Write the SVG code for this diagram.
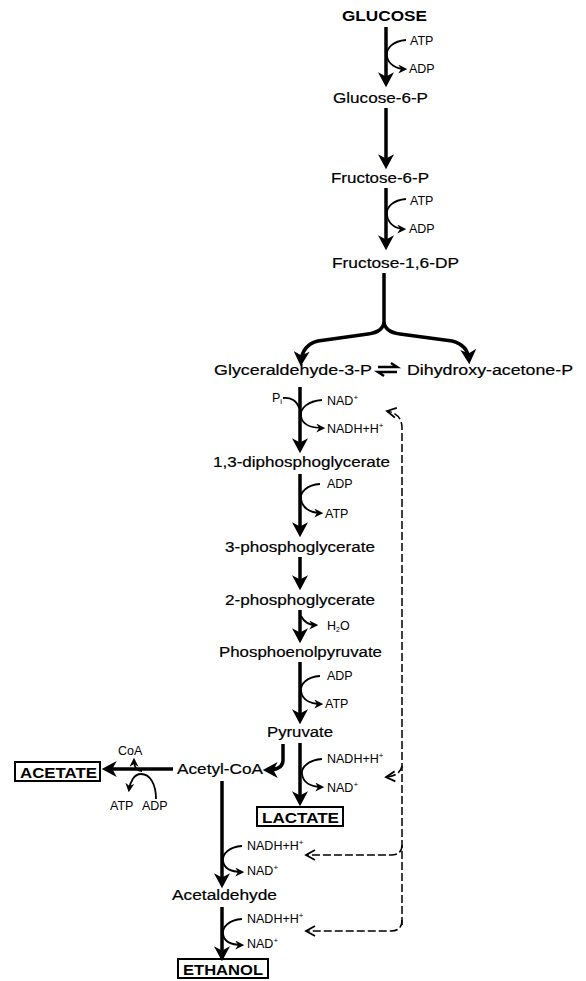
<svg xmlns="http://www.w3.org/2000/svg" width="586" height="981" viewBox="0 0 586 981">
<defs>
<style>
text{font-family:"Liberation Sans",Arial,sans-serif;fill:#000}
.m{font-size:15.5px;stroke:#000;stroke-width:0.2}
.b{font-size:15.5px;font-weight:bold}
.s{font-size:12.5px}
.sup{font-size:8px}
.main{fill:none;stroke:#000;stroke-width:3.5;marker-end:url(#big)}
.side{fill:none;stroke:#000;stroke-width:1.8;marker-end:url(#sm)}
.dash{fill:none;stroke:#000;stroke-width:1.5;stroke-dasharray:8 3;marker-end:url(#open)}
.box{fill:none;stroke:#000;stroke-width:2}
</style>
<marker id="big" markerUnits="userSpaceOnUse" markerWidth="16" markerHeight="16" viewBox="0 0 14 15" refX="10" refY="7.5" orient="auto">
<path d="M0,0 L14,7.5 L0,15 L4,7.5 Z" fill="#000"/>
</marker>
<marker id="sm" markerUnits="userSpaceOnUse" markerWidth="9" markerHeight="9" viewBox="0 0 8 8" refX="6" refY="4" orient="auto">
<path d="M0,0 L8,4 L0,8 L2.5,4 Z" fill="#000"/>
</marker>
<marker id="open" markerUnits="userSpaceOnUse" markerWidth="12" markerHeight="12" viewBox="0 0 12 12" refX="10" refY="6" orient="auto">
<path d="M1,1 L10,6 L1,11" fill="none" stroke="#000" stroke-width="1.8"/>
</marker>
</defs>
<rect width="586" height="981" fill="#fff"/>

<g id="connectors">
<path class="main" d="M386,27 L386,83"/>
<path class="main" d="M386,108 L386,165"/>
<path class="main" d="M386,188 L386,246"/>
<path d="M384,273 L384,324" fill="none" stroke="#000" stroke-width="3.5"/>
<path class="main" d="M384,322 Q383,332 368,334 L318,341 Q302,345 301,362"/>
<path class="main" d="M384,322 Q385,332 400,334 L452,341 Q468,345 469,360"/>
<path class="main" d="M300,387 L300,449"/>
<path class="main" d="M300,474 L300,533"/>
<path class="main" d="M300,557 L300,586"/>
<path class="main" d="M300,610 L300,639"/>
<path class="main" d="M300,662 L300,720"/>
<path class="main" d="M300,743 L300,802"/>
<path class="main" d="M283,744 L283,760 Q283,770 267,770"/>
<path class="main" d="M173,769 L106,769"/>
<path class="main" d="M222,781 L222,884"/>
<path class="main" d="M222,907 L222,957"/>
<path d="M378,367 L397,367 L391,363" fill="none" stroke="#000" stroke-width="2.5"/>
<path d="M397,372 L378,372 L384,376" fill="none" stroke="#000" stroke-width="2.5"/>
<path class="side" d="M406,40 C393,41 386,48 387,56 C388,64 396,69 405,69"/>
<path class="side" d="M406,199 C393,200 386,207 387,215 C388,224 396,229 404,229"/>
<path d="M283,398 C291,397 297,401 299,408" fill="none" stroke="#000" stroke-width="1.8"/>
<path class="side" d="M322,400 C308,401 300,408 301,416 C302,424 310,428 323,428"/>
<path class="side" d="M320,484 C307,485 300,492 301,499 C302,507 309,513 321,513"/>
<path class="side" d="M301,616 C304,622 308,625 316,625"/>
<path class="side" d="M320,676 C307,677 300,684 301,691 C302,699 309,704 321,704"/>
<path class="side" d="M322,759 C309,760 301,767 302,774 C303,782 310,787 322,787"/>
<path class="side" d="M242,846 C229,847 222,854 223,861 C224,869 231,872 242,872"/>
<path class="side" d="M242,919 C229,920 222,927 223,934 C224,942 231,945 242,945"/>
<path class="side" d="M156,799 C156,784 150,774 141,774 C134,774 130,782 129,790"/>
<path class="side" d="M142,771 C136,771 134,766 134,760"/>
<path class="dash" d="M402,925 L402,428 Q402,414 387,411"/>
<path class="dash" d="M402,920 Q402,931 391,931 L306,931"/>
<path class="dash" d="M402,845 Q402,855 391,855 L306,855"/>
<path class="dash" d="M402,766 Q400,776 386,777"/>
</g>

<g id="glucose"><text class="b" x="342" y="21" textLength="85" lengthAdjust="spacingAndGlyphs">GLUCOSE</text></g>
<g id="atp1"><text class="s" x="410" y="45">ATP</text></g>
<g id="adp1"><text class="s" x="409" y="73">ADP</text></g>
<g id="glucose6p"><text class="m" x="333" y="103" textLength="95" lengthAdjust="spacingAndGlyphs">Glucose-6-P</text></g>
<g id="fructose6p"><text class="m" x="331" y="183" textLength="98" lengthAdjust="spacingAndGlyphs">Fructose-6-P</text></g>
<g id="atp2"><text class="s" x="410" y="205">ATP</text></g>
<g id="adp2"><text class="s" x="409" y="233">ADP</text></g>
<g id="fructose16dp"><text class="m" x="332" y="268" textLength="127" lengthAdjust="spacingAndGlyphs">Fructose-1,6-DP</text></g>
<g id="g3p"><text class="m" x="214" y="375" textLength="158" lengthAdjust="spacingAndGlyphs">Glyceraldehyde-3-P</text></g>
<g id="dhap"><text class="m" x="407" y="375" textLength="166" lengthAdjust="spacingAndGlyphs">Dihydroxy-acetone-P</text></g>
<g id="pi"><text class="s" x="272" y="402">P<tspan font-size="8" dy="2">i</tspan></text></g>
<g id="nad1"><text class="s" x="327" y="405">NAD<tspan class="sup" dy="-5">+</tspan></text></g>
<g id="nadh1"><text class="s" x="327" y="433">NADH+H<tspan class="sup" dy="-5">+</tspan></text></g>
<g id="dpg13"><text class="m" x="213" y="467" textLength="177" lengthAdjust="spacingAndGlyphs">1,3-diphosphoglycerate</text></g>
<g id="adp3"><text class="s" x="327" y="488">ADP</text></g>
<g id="atp3"><text class="s" x="325" y="518">ATP</text></g>
<g id="pg3"><text class="m" x="225" y="552" textLength="150" lengthAdjust="spacingAndGlyphs">3-phosphoglycerate</text></g>
<g id="pg2"><text class="m" x="225" y="605" textLength="150" lengthAdjust="spacingAndGlyphs">2-phosphoglycerate</text></g>
<g id="h2o"><text class="s" x="327" y="630" font-size="11">H<tspan font-size="7" dy="2">2</tspan><tspan dy="-2">O</tspan></text></g>
<g id="pep"><text class="m" x="219" y="657" textLength="163" lengthAdjust="spacingAndGlyphs">Phosphoenolpyruvate</text></g>
<g id="adp4"><text class="s" x="327" y="680">ADP</text></g>
<g id="atp4"><text class="s" x="325" y="708">ATP</text></g>
<g id="pyruvate"><text class="m" x="267" y="737" textLength="66" lengthAdjust="spacingAndGlyphs">Pyruvate</text></g>
<g id="nadh2"><text class="s" x="327" y="763">NADH+H<tspan class="sup" dy="-5">+</tspan></text></g>
<g id="nad2"><text class="s" x="327" y="792">NAD<tspan class="sup" dy="-5">+</tspan></text></g>
<g id="lactate"><rect class="box" x="257" y="807" width="86" height="19"/><text class="b" x="262" y="823" textLength="77" lengthAdjust="spacingAndGlyphs">LACTATE</text></g>
<g id="acetylcoa"><text class="m" x="177" y="774" textLength="86" lengthAdjust="spacingAndGlyphs">Acetyl-CoA</text></g>
<g id="coa"><text class="s" x="118" y="755">CoA</text></g>
<g id="atp5"><text class="s" x="110" y="810">ATP</text></g>
<g id="adp5"><text class="s" x="142" y="810">ADP</text></g>
<g id="acetate"><rect class="box" x="15" y="762" width="85" height="19"/><text class="b" x="20" y="778" textLength="77" lengthAdjust="spacingAndGlyphs">ACETATE</text></g>
<g id="nadh3"><text class="s" x="247" y="850">NADH+H<tspan class="sup" dy="-5">+</tspan></text></g>
<g id="nad3"><text class="s" x="247" y="875">NAD<tspan class="sup" dy="-5">+</tspan></text></g>
<g id="acetaldehyde"><text class="m" x="172" y="900" textLength="105" lengthAdjust="spacingAndGlyphs">Acetaldehyde</text></g>
<g id="nadh4"><text class="s" x="247" y="923">NADH+H<tspan class="sup" dy="-5">+</tspan></text></g>
<g id="nad4"><text class="s" x="247" y="948">NAD<tspan class="sup" dy="-5">+</tspan></text></g>
<g id="ethanol"><rect class="box" x="178" y="959" width="90" height="19"/><text class="b" x="183" y="975" textLength="80" lengthAdjust="spacingAndGlyphs">ETHANOL</text></g>
</svg>
